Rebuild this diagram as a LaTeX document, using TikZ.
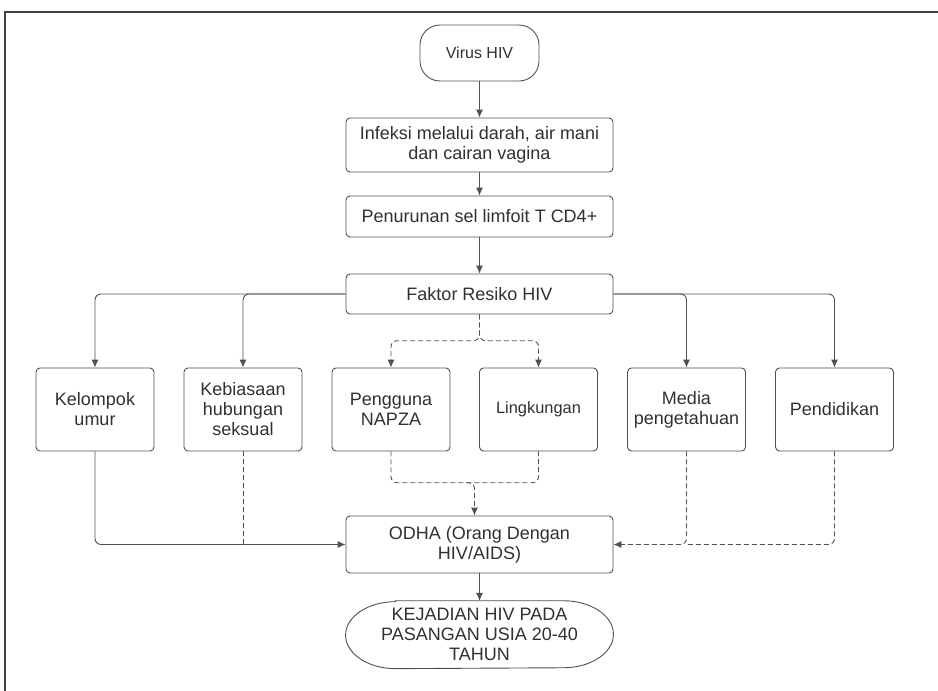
\documentclass[tikz,border=0pt]{standalone}
\usepackage{fontspec}
\setmainfont{Liberation Sans}
\usetikzlibrary{arrows.meta}
\definecolor{linegray}{HTML}{505050}
\definecolor{textgray}{HTML}{303030}
\tikzset{
  box/.style={draw=linegray, line width=0.9pt, rounded corners=4pt, align=center, text=textgray, inner sep=0pt, font=\fontsize{18}{20}\selectfont},
  wide/.style={box, minimum width=267pt},
  factor/.style={box, minimum width=118pt, minimum height=83pt},
  flow/.style={draw=linegray, line width=0.9pt, rounded corners=6pt, -{Latex[length=8pt,width=7pt]}},
  link/.style={draw=linegray, line width=0.9pt, rounded corners=6pt},
  soft/.style={dash pattern=on 5pt off 3pt}
}

\begin{document}
\begin{tikzpicture}[x=1pt,y=-1pt]
\useasboundingbox (0,0) rectangle (938,691);
\path[draw][line width=1.3pt,black!75] (5,691) -- (5,12) -- (938,12);

% main column
\path (479.5,53) node[box,rounded corners=20pt,minimum width=119pt,minimum height=56pt,font=\fontsize{16}{18}\selectfont] (virus) {Virus HIV};
\path (479.5,145) node[wide,minimum height=54pt] (infeksi) {Infeksi melalui darah, air mani\\dan cairan vagina};
\path (479.5,216.5) node[wide,minimum height=41pt] (penurunan) {Penurunan sel limfoit T CD4+};
\path (479.5,294) node[wide,minimum height=40pt] (faktor) {Faktor Resiko HIV};

% risk factors
\path (95,409.5) node[factor] (kelompok) {Kelompok\\umur};
\path (243,409.5) node[factor] (kebiasaan) {Kebiasaan\\hubungan\\seksual};
\path (391,409.5) node[factor] (pengguna) {Pengguna\\NAPZA};
\path (538.5,409.5) node[factor,font=\fontsize{16.4}{19}\selectfont] (lingkungan) {Lingkungan};
\path (686.5,409.5) node[factor] (media) {Media\\pengetahuan};
\path (834.5,409.5) node[factor] (pendidikan) {Pendidikan};

\path (479.5,544.5) node[wide,minimum height=57pt] (odha) {ODHA (Orang Dengan\\HIV/AIDS)};
\path (479.5,634.7) node[wide,draw=none,minimum height=67pt] (kejadian) {KEJADIAN HIV PADA\\PASANGAN USIA 20-40\\TAHUN};
\path[draw][linegray,line width=0.9pt] ([xshift=50pt]kejadian.north west) -- ([xshift=-50pt]kejadian.north east)
  arc[start angle=90,end angle=-90,x radius=50pt,y radius=33.5pt] -- ([xshift=50pt]kejadian.south west)
  arc[start angle=270,end angle=90,x radius=50pt,y radius=33.5pt] -- cycle;

\coordinate (split) at (479.5,340.7);
\coordinate (merge) at (466,482.7);

% connectors
\path[draw][flow] (virus) -- (infeksi);
\path[draw][flow] (infeksi) -- (penurunan);
\path[draw][flow] (penurunan) -- (faktor);
\path[draw][flow] (faktor.west) -| (kelompok.north);
\path[draw][flow] (faktor.west) -| (kebiasaan.north);
\path[draw][flow] (faktor.east) -| (media.north);
\path[draw][flow] (faktor.east) -| (pendidikan.north);
\path[draw][flow,soft] (faktor.south) -- (split) -| (pengguna.north);
\path[draw][flow,soft] (faktor.south) -- (split) -| (lingkungan.north);

\path[draw][flow] (kelompok.south) |- (odha.west);
\path[draw][link,soft] (kebiasaan.south) -- (kebiasaan.south |- odha.west);
\path[draw][link,soft] (pengguna.south) |- (merge) -- (lingkungan.south |- merge) -- (lingkungan.south);
\path[draw][flow,soft] (merge) -| ([xshift=-5pt]odha.north);
\path[draw][flow,soft] (media.south) |- (odha.east);
\path[draw][link,soft] (pendidikan.south) |- (media.south |- odha.east);
\path[draw][flow] (odha) -- (kejadian);
\end{tikzpicture}
\end{document}
